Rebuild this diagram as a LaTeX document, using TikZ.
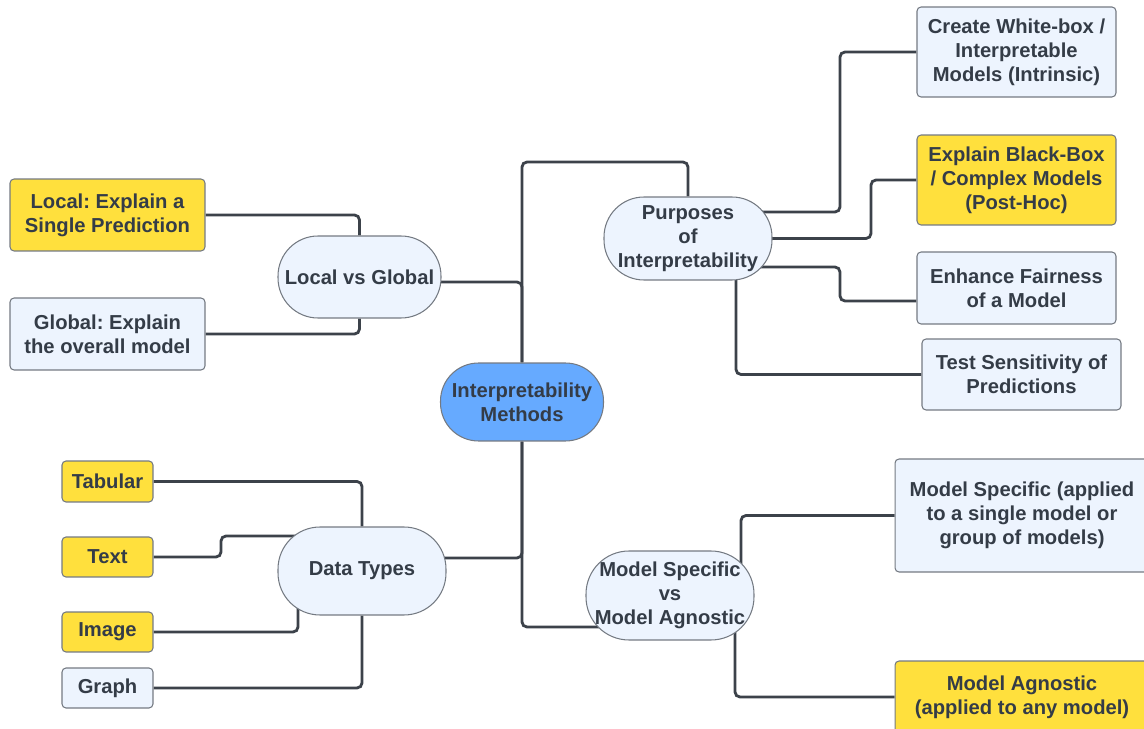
\documentclass[tikz,border=0pt]{standalone}
\usepackage{fontspec}
\setmainfont{Liberation Sans}
\pgfdeclarelayer{background}
\pgfsetlayers{background,main}
\definecolor{inkc}{HTML}{343C47}
\definecolor{edgec}{HTML}{3C424A}
\definecolor{borderc}{HTML}{747A82}
\definecolor{paleblue}{HTML}{EDF4FE}
\definecolor{sunny}{HTML}{FFE03D}
\definecolor{hubblue}{HTML}{66AAFF}
\tikzset{
  base/.style={draw=borderc, line width=0.6pt, inner sep=0pt, align=center,
    text=inkc, font=\fontsize{11.5pt}{13.6pt}\selectfont\bfseries\frenchspacing},
  leafpale/.style={base, fill=paleblue, rounded corners=0.08cm},
  leafsun/.style={base, fill=sunny, rounded corners=0.08cm},
  topic/.style={base, fill=paleblue},
  hub/.style={base, fill=hubblue},
  link/.style={draw=edgec, line width=1.6pt, rounded corners=0.1cm}
}
\begin{document}
\frenchspacing
\begin{tikzpicture}[x=0.02cm, y=-0.02cm]
\useasboundingbox (0,0) rectangle (1144,729);

% central hub and the four topics
\node[hub, minimum width=3.26cm, minimum height=1.56cm, rounded corners=0.76cm]
  (hub) at (522,402) {Interpretability\\Methods};
\node[topic, minimum width=3.36cm, minimum height=1.66cm, rounded corners=0.8cm]
  (pur) at (688,238.5) {Purposes\\of\\Interpretability};
\node[topic, minimum width=3.26cm, minimum height=1.64cm, rounded corners=0.8cm]
  (lvg) at (359.5,277) {Local vs Global};
\node[topic, minimum width=3.36cm, minimum height=1.76cm, rounded corners=0.84cm]
  (dt) at (362,571) {Data Types};
\node[topic, minimum width=3.36cm, minimum height=1.78cm, rounded corners=0.86cm]
  (msa) at (670,595.5) {Model Specific\\vs\\Model Agnostic};

% local vs global leaves
\node[leafsun, minimum width=3.9cm, minimum height=1.44cm]
  (loc) at (107.5,215) {Local: Explain a\\Single Prediction};
\node[leafpale, minimum width=3.9cm, minimum height=1.44cm]
  (glob) at (107.5,334) {Global: Explain\\the overall model};

% data type leaves
\node[leafsun, minimum width=1.82cm, minimum height=0.82cm]
  (tab) at (107.5,481.5) {Tabular};
\node[leafsun, minimum width=1.82cm, minimum height=0.8cm]
  (txt) at (107.5,557) {Text};
\node[leafsun, minimum width=1.82cm, minimum height=0.8cm]
  (img) at (107.5,632) {Image};
\node[leafpale, minimum width=1.82cm, minimum height=0.8cm]
  (gra) at (107.5,688) {Graph};

% purpose leaves
\node[leafpale, minimum width=3.98cm, minimum height=1.8cm]
  (cre) at (1016.5,52) {Create White-box /\\Interpretable\\Models (Intrinsic)};
\node[leafsun, minimum width=3.98cm, minimum height=1.8cm]
  (exb) at (1016.5,180) {Explain Black-Box\\/ Complex Models\\(Post-Hoc)};
\node[leafpale, minimum width=3.98cm, minimum height=1.44cm]
  (enh) at (1016.5,288) {Enhance Fairness\\of a Model};
\node[leafpale, minimum width=3.98cm, minimum height=1.42cm]
  (tst) at (1021.5,374.5) {Test Sensitivity of\\Predictions};

% model specific / agnostic leaves
\node[leafpale, minimum width=5.08cm, minimum height=2.26cm]
  (msr) at (1022,515.5) {Model Specific (applied\\to a single model or\\group of models)};
\node[leafsun, minimum width=5.08cm, minimum height=1.44cm]
  (mag) at (1022,697) {Model Agnostic\\(applied to any model)};

\begin{pgfonlayer}{background}
  % hub to topics
  \draw[link] (hub.north) -- (hub.north |- 0,162) -| (pur.north);
  \draw[link] (lvg.center |- 0,282) -| (hub.north);
  \draw[link] (hub.south) |- (dt.center |- 0,558);
  \draw[link] (hub.south) |- (msa.center |- 0,627);
  % local vs global
  \draw[link] (loc.east) -| (lvg.north);
  \draw[link] (glob.east) -| (lvg.south);
  % data types
  \draw[link] (tab.east) -| (dt.north);
  \draw[link] (txt.east) -- (221,557) -- (221,536) -- (dt.center |- 0,536);
  \draw[link] (img.east) -| (298,590);
  \draw[link] (gra.east) -| (dt.south);
  % purposes
  \draw[link] (pur.center |- 0,212) -- (840,212) |- (cre.west);
  \draw[link] (pur.center) -- (871,238.5) |- (exb.west);
  \draw[link] (pur.center |- 0,267) -- (840,267) |- (enh.west |- 0,301);
  \draw[link] (736,250) |- (tst.west);
  % model specific / agnostic
  \draw[link] (741,580) |- (msr.west);
  \draw[link] (735,610) |- (mag.west);
\end{pgfonlayer}
\end{tikzpicture}
\end{document}
